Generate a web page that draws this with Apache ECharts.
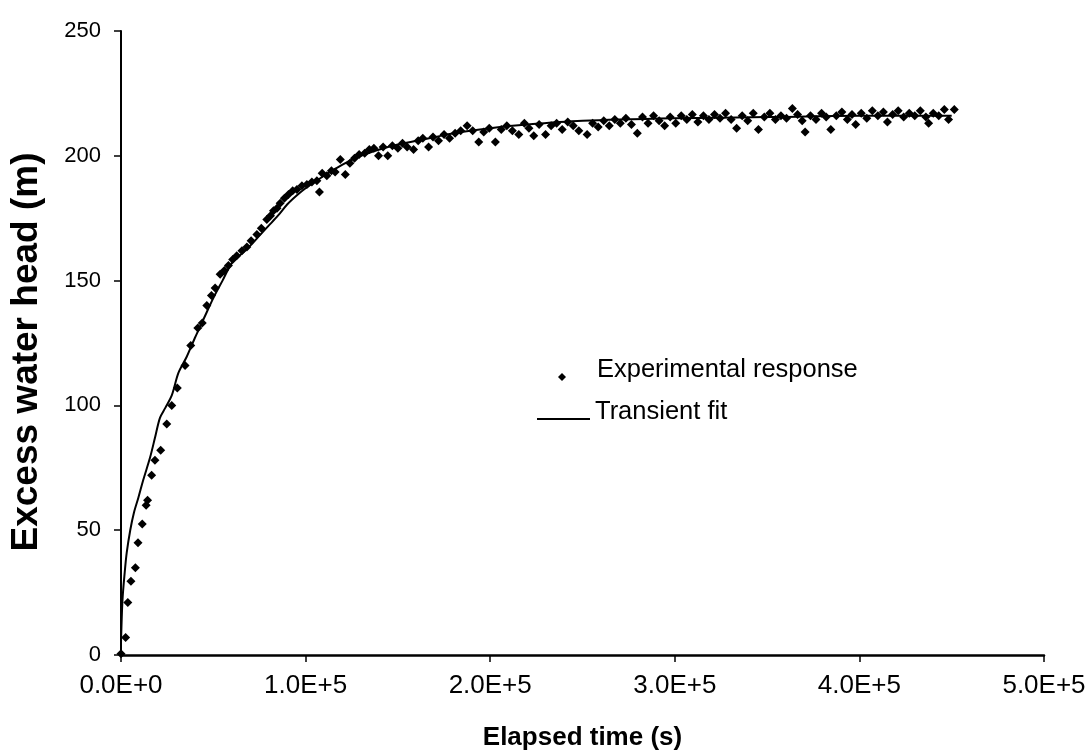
<!DOCTYPE html>
<html>
<head>
<meta charset="utf-8">
<script src="https://cdn.jsdelivr.net/npm/echarts@6/dist/echarts.min.js"></script>
<style>
  html, body { margin: 0; padding: 0; background: #ffffff; }
  #chart { width: 1088px; height: 756px; }
</style>
</head>
<body>
<div id="chart"></div>
<script>
// Elapsed time (s) of each measured head reading
const expTime = [
  0, 2500, 3700, 5400, 7800, 9200, 11500, 13600, 14400, 16600,
  18400, 21500, 24800, 27500, 30500, 34700, 37800, 41600, 44000, 46500,
  49000, 51000, 53700, 56000, 58200, 60500, 62700, 65500, 68200, 70500,
  73600, 76000, 79000, 81000, 82600, 84500, 86200, 88500, 90700, 93000,
  95300, 98000, 100700, 103400, 106100, 107500, 109000, 111500, 114000, 116000,
  118800, 121500, 124000, 126500, 129000, 132000, 134500, 137000, 139500, 142000,
  144500, 147000, 150000, 152500, 155000, 158500, 161000, 163500, 166600, 169000,
  172000, 175000, 178000, 181000, 184000, 187500, 190500, 193800, 196500, 199500,
  202800, 206000, 209000, 212000, 215500, 218500, 221000, 223600, 226500, 230000,
  233000, 236000, 239000, 242000, 245000, 248000, 252500, 255500, 258500, 261500,
  264500, 267500, 270500, 273500, 276500, 279700, 282500, 285500, 288500, 291500,
  294500, 297500, 300500, 303500, 306500, 309500, 312500, 315500, 318500, 321500,
  324500, 327500, 330500, 333500, 336500, 339500, 342500, 345300, 348500, 351500,
  354500, 357500, 360500, 363700, 366500, 369000, 370600, 373500, 376500, 379500,
  382000, 384500, 387500, 390500, 393500, 396000, 398000, 401000, 404000, 407000,
  410000, 413000, 415200, 418000, 421000, 424000, 427000, 430000, 433000, 436000,
  437500, 440000, 443000, 446000, 448300, 451400
];

// Measured excess water head (m) at each reading
const expHead = [
  0.5, 7, 21, 29.5, 35, 45, 52.5, 60, 62, 72,
  78, 82, 92.5, 100, 107, 116, 124, 131, 133, 140,
  144, 147, 152.5, 154, 156, 158.5, 160, 162, 163.5, 166,
  168.5, 171, 174.5, 176, 178, 179, 181, 183, 184.5, 186,
  186.5, 188, 188.5, 189.5, 190, 185.5, 193, 192, 194, 193.5,
  198.5, 192.5, 197, 199, 200.5, 201, 202.5, 203, 200, 203.5,
  200, 204, 203, 205, 203.5, 202.5, 206, 207, 203.5, 207.5,
  206, 208.5, 207, 209, 210, 212, 210, 205.5, 209.5, 211,
  205.5, 210.5, 212, 210, 208.5, 213, 211, 208, 212.5, 208.5,
  212, 213, 210.5, 213.5, 212, 210, 208.5, 213, 211.5, 214,
  212, 214.5, 213, 215, 212.5, 209, 215.5, 213, 216, 214,
  212, 215.5, 213, 216, 214.5, 216.5, 213.5, 216, 214.5, 216.5,
  215, 217, 214.5, 211, 216, 214, 217, 210.5, 215.5, 217,
  214.5, 216, 215, 219, 216.5, 214, 209.5, 216, 214.5, 217,
  215.5, 210.5, 216, 217.5, 214.5, 216.5, 212.5, 217, 215, 218,
  216, 217.5, 213.5, 216.5, 218, 215.5, 217, 216, 218, 215.5,
  213, 217, 216, 218.5, 214.5, 218.5
];

// Transient fit: time (s) and head (m)
const fitTime = [
  0, 800, 2000, 3100, 5000, 7000, 9400, 12000, 15700, 18400,
  21100, 24000, 27500, 31100, 35600, 40000, 45000, 50000, 55000, 60000,
  65000, 70000, 75000, 80000, 85000, 90000, 95000, 100000, 110000, 120000,
  130000, 140000, 150000, 160000, 170000, 180000, 200000, 220000, 250000, 300000,
  350000, 400000, 450000
];
const fitHead = [
  5, 22, 33, 41, 50, 57, 63, 70, 79, 87,
  95, 99, 104, 113, 119.5, 127, 135, 143, 150, 157,
  160.5, 164, 168, 172, 176, 180.5, 184, 187, 192, 196.5,
  200, 202.5, 204.5, 206, 207.5, 209, 211, 212.5, 214, 215,
  215.5, 216, 216
];

// Axis tick labels
const xTickLabels = ['0.0E+0', '1.0E+5', '2.0E+5', '3.0E+5', '4.0E+5', '5.0E+5'];
const yTicks = [0, 50, 100, 150, 200, 250];

const seriesNames = ['Experimental response', 'Transient fit'];

const expPairs = expTime.map((t, i) => [t, expHead[i]]);
const fitPairs = fitTime.map((t, i) => [t, fitHead[i]]);

const FONT = '"Liberation Sans", Arial, sans-serif';

const chart = echarts.init(document.getElementById('chart'), null, { renderer: 'canvas' });

// legend labels sit a little above their keys: bottom padding in a rich token
function legendTextStyle(padLeft) {
  return {
    fontFamily: FONT, fontSize: 25.5, color: '#000',
    rich: { t: { fontFamily: FONT, fontSize: 25.5, color: '#000', padding: [0, 0, 14, padLeft] } }
  };
}

chart.setOption({
  backgroundColor: '#ffffff',
  animation: false,
  grid: {
    left: 121, right: 44, top: 31, bottom: 101,
    containLabel: false,
    outerBoundsMode: 'none'
  },
  legend: [
    {
      data: [{ name: seriesNames[0], icon: 'diamond' }],
      left: 553, top: 352,
      itemWidth: 8, itemHeight: 8, itemGap: 0,
      formatter: '{t|{name}}',
      textStyle: legendTextStyle(26),
      selectedMode: false
    },
    {
      data: [{ name: seriesNames[1], icon: 'rect' }],
      left: 532, top: 394,
      itemWidth: 53, itemHeight: 2, itemGap: 0,
      formatter: '{t|{name}}',
      textStyle: legendTextStyle(0),
      selectedMode: false
    }
  ],
  xAxis: {
    type: 'value',
    min: 0, max: 500000, interval: 100000,
    name: 'Elapsed time (s)',
    nameLocation: 'middle',
    nameGap: 70,
    nameTextStyle: { fontFamily: FONT, fontSize: 26, fontWeight: 'bold', color: '#000' },
    axisLine: { show: true, onZero: false, lineStyle: { color: '#000', width: 2.5 } },
    axisTick: { show: true, inside: false, length: 7, lineStyle: { color: '#000', width: 1.5 } },
    axisLabel: {
      fontFamily: FONT, fontSize: 26, color: '#000', margin: 18,
      formatter: v => xTickLabels[Math.round(v / 100000)]
    },
    splitLine: { show: false }
  },
  yAxis: {
    type: 'value',
    min: yTicks[0], max: yTicks[yTicks.length - 1], interval: 50,
    name: 'Excess water head (m)',
    nameLocation: 'middle',
    nameGap: 76,
    nameRotate: 90,
    nameTextStyle: {
      fontFamily: FONT, fontSize: 37, fontWeight: 'bold', color: '#000',
      padding: [0, 18, 0, 0]
    },
    axisLine: { show: true, lineStyle: { color: '#000', width: 2 } },
    axisTick: { show: true, inside: false, length: 7, lineStyle: { color: '#000', width: 1.5 } },
    axisLabel: { fontFamily: FONT, fontSize: 22, color: '#000', margin: 20 },
    splitLine: { show: false }
  },
  series: [
    {
      name: seriesNames[0],
      type: 'scatter',
      symbol: 'diamond',
      symbolSize: 9,
      itemStyle: { color: '#000', opacity: 1 },
      data: expPairs,
      z: 3
    },
    {
      name: seriesNames[1],
      type: 'line',
      showSymbol: false,
      smooth: 0.3,
      lineStyle: { color: '#000', width: 2 },
      itemStyle: { color: '#000' },
      data: fitPairs,
      z: 2
    }
  ]
});
</script>
</body>
</html>
